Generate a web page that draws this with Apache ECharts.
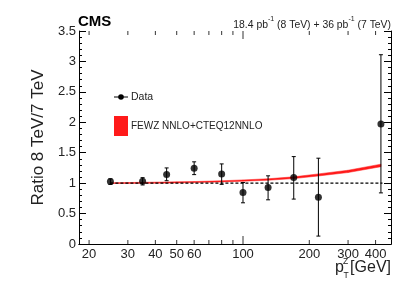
<!DOCTYPE html>
<html>
<head>
<meta charset="utf-8">
<script src="https://cdn.jsdelivr.net/npm/echarts@6/dist/echarts.min.js"></script>
<style>
html,body{margin:0;padding:0;background:#fff;overflow:hidden;}
#c{width:399px;height:306px;}
</style>
</head>
<body>
<div id="c"></div>
<script>
// Data points
const pT = [25, 35, 45, 60, 80, 100, 130, 170, 220, 423];
const ratio = [1.026, 1.03, 1.14, 1.245, 1.15, 0.846, 0.928, 1.092, 0.77, 1.97];
const errLow = [0.98, 0.97, 1.04, 1.14, 0.98, 0.677, 0.726, 0.738, 0.13, 0.84];
const errHigh = [1.07, 1.09, 1.25, 1.35, 1.316, 1.01, 1.12, 1.436, 1.41, 3.11];

// Theory band (FEWZ NNLO+CTEQ12NNLO)
const bandX = [25, 30, 40, 50, 60, 80, 100, 130, 170, 220, 300, 423];
const bandLow = [0.993, 0.996, 1.0, 1.004, 1.009, 1.02, 1.032, 1.048, 1.075, 1.118, 1.174, 1.27];
const bandHigh = [1.007, 1.01, 1.016, 1.021, 1.026, 1.039, 1.053, 1.072, 1.104, 1.152, 1.212, 1.312];

// Reference line
const refX = [25, 430];
const refY = [1, 1];

// Axis ticks
const xTickVals = [20, 30, 40, 50, 60, 70, 80, 90, 100, 200, 300, 400];
const xMajorTick = [100];
const xLabelVals = [20, 30, 40, 50, 60, 100, 200, 300, 400];
const yRange = [0, 3.5];

const FONT = 'Liberation Sans, Arial, Helvetica, sans-serif';
const chart = echarts.init(document.getElementById('c'), null, {renderer: 'canvas', width: 399, height: 306});

const xBase = {
  type: 'log', logBase: 10, min: 18, max: 470,
  axisLine: {lineStyle: {color: '#000', width: 1}},
  axisTick: {show: false},
  splitLine: {show: false},
  minorTick: {show: false}
};
const yBase = {
  type: 'value', min: yRange[0], max: yRange[1], interval: 0.5,
  axisLine: {show: true, lineStyle: {color: '#000', width: 1}},
  splitLine: {show: false},
  minorTick: {show: true, splitNumber: 5, length: 3, lineStyle: {color: '#000'}},
  minorSplitLine: {show: false}
};

// band segments built from the arrays
const bandSeg = [];
for (let i = 0; i < bandX.length - 1; i++) {
  bandSeg.push([bandX[i], bandLow[i], bandHigh[i], bandX[i + 1], bandLow[i + 1], bandHigh[i + 1]]);
}

// tick marks as tiny rect symbols on the bottom and top edges
const tickData = [];
xTickVals.forEach(v => {
  const len = xMajorTick.indexOf(v) >= 0 ? 8 : 4;
  tickData.push({value: [v, yRange[0]], symbolSize: [1, len], symbolOffset: [0, -len / 2]});
  tickData.push({value: [v, yRange[1]], symbolSize: [1, len], symbolOffset: [0, len / 2]});
});

const option = {
  animation: false,
  backgroundColor: '#fff',
  grid: {left: 79, top: 31, width: 312, height: 213, containLabel: false, outerBoundsMode: 'none'},
  xAxis: [
    Object.assign({}, xBase, {
      position: 'bottom',
      axisLabel: {show: true, customValues: xLabelVals, color: '#222', fontFamily: FONT, fontSize: 13, margin: 4,
        formatter: v => String(Math.round(v))}
    }),
    Object.assign({}, xBase, {
      position: 'top',
      axisLabel: {show: false}
    })
  ],
  yAxis: [
    Object.assign({}, yBase, {
      position: 'left',
      axisTick: {show: true, inside: true, length: 7, lineStyle: {color: '#000'}},
      axisLabel: {show: true, color: '#222', fontFamily: FONT, fontSize: 13, margin: 3},
      name: 'Ratio 8 TeV/7 TeV', nameLocation: 'middle', nameGap: 32,
      nameTextStyle: {fontFamily: FONT, fontSize: 17, color: '#222'}
    }),
    Object.assign({}, yBase, {
      position: 'right',
      axisTick: {show: true, inside: true, length: 7, lineStyle: {color: '#000'}},
      axisLabel: {show: false}
    })
  ],
  title: [
    {text: 'CMS', left: 78, top: 14, textStyle: {fontFamily: FONT, fontWeight: 'bold', fontSize: 15, color: '#000'}, padding: 0},
    {text: '{n|18.4 pb}{s|-1}{n| (8 TeV) + 36 pb}{s|-1}{n| (7 TeV)}', right: 8, top: 16, padding: 0,
      textStyle: {fontWeight: 'normal', rich: {
        n: {fontFamily: FONT, fontSize: 10.4, fontWeight: 'normal', color: '#222', verticalAlign: 'bottom', lineHeight: 14},
        s: {fontFamily: FONT, fontSize: 7, fontWeight: 'normal', color: '#222', verticalAlign: 'top', lineHeight: 14, padding: [0, 0, 6, 0]}
      }}}
  ],
  graphic: [
    {type: 'line', shape: {x1: 114, y1: 97, x2: 128, y2: 97}, style: {stroke: '#000', lineWidth: 1}},
    {type: 'circle', shape: {cx: 121, cy: 97, r: 2.8}, style: {fill: '#000'}},
    {type: 'text', x: 131, y: 97, style: {text: 'Data', font: '10.5px ' + FONT, fill: '#222', textVerticalAlign: 'middle'}},
    {type: 'rect', shape: {x: 114, y: 116, width: 14, height: 20}, style: {fill: '#ff1a1a'}},
    {type: 'text', x: 131, y: 126, style: {text: 'FEWZ NNLO+CTEQ12NNLO', font: '10px ' + FONT, fill: '#222', textVerticalAlign: 'middle'}},
    {type: 'text', x: 335, y: 268, style: {text: 'p', font: '16px ' + FONT, fill: '#222', textVerticalAlign: 'middle'}},
    {type: 'text', x: 343, y: 262, style: {text: 'Z', font: '8.5px ' + FONT, fill: '#222', textVerticalAlign: 'middle'}},
    {type: 'text', x: 343.5, y: 276, style: {text: 'T', font: '8.5px ' + FONT, fill: '#222', textVerticalAlign: 'middle'}},
    {type: 'text', x: 391, y: 268, style: {text: '[GeV]', font: '16px ' + FONT, fill: '#222', textVerticalAlign: 'middle', textAlign: 'right'}}
  ],
  series: [
    {
      name: 'xticks', type: 'scatter', symbol: 'rect', z: 6, clip: false, silent: true,
      data: tickData,
      itemStyle: {color: '#000'}
    },
    {
      name: 'FEWZ NNLO+CTEQ12NNLO', type: 'custom', z: 2,
      data: bandSeg,
      encode: {x: [0, 3], y: [1, 2, 4, 5]},
      renderItem: function (params, api) {
        const a = api.coord([api.value(0), api.value(1)]);
        const b = api.coord([api.value(0), api.value(2)]);
        const c = api.coord([api.value(3), api.value(5)]);
        const d = api.coord([api.value(3), api.value(4)]);
        return {type: 'polygon', shape: {points: [a, b, c, d]},
          style: {fill: '#ff1a1a', stroke: '#ff1a1a', lineWidth: 0.5}};
      }
    },
    {
      name: 'ref', type: 'line', symbol: 'none', z: 3,
      data: refX.map((x, i) => [x, refY[i]]),
      lineStyle: {color: '#000', width: 1.1, type: [3, 2]}
    },
    {
      name: 'err', type: 'custom', z: 4,
      data: pT.map((x, i) => [x, errLow[i], errHigh[i]]),
      encode: {x: 0, y: [1, 2]},
      renderItem: function (params, api) {
        const x = api.value(0);
        const p1 = api.coord([x, api.value(1)]);
        const p2 = api.coord([x, api.value(2)]);
        const s = {stroke: '#000', lineWidth: 1};
        return {type: 'group', children: [
          {type: 'line', shape: {x1: p1[0], y1: p1[1], x2: p2[0], y2: p2[1]}, style: s},
          {type: 'line', shape: {x1: p1[0] - 2, y1: p1[1], x2: p1[0] + 2, y2: p1[1]}, style: s},
          {type: 'line', shape: {x1: p2[0] - 2, y1: p2[1], x2: p2[0] + 2, y2: p2[1]}, style: s}
        ]};
      }
    },
    {
      name: 'Data', type: 'scatter', symbol: 'circle', symbolSize: 7, z: 5,
      data: pT.map((x, i) => [x, ratio[i]]),
      itemStyle: {color: '#000'}
    }
  ]
};
chart.setOption(option);
</script>
</body>
</html>
